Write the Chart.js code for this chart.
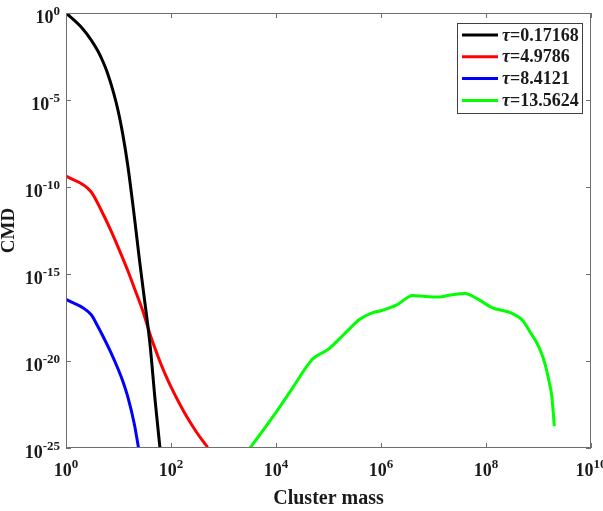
<!DOCTYPE html>
<html>
<head>
<meta charset="utf-8">
<script src="https://cdn.jsdelivr.net/npm/chart.js@4"></script>
<style>
  html, body { margin: 0; padding: 0; background: #fff; }
  #wrap { width: 603px; height: 511px; position: relative; }
</style>
</head>
<body>
<div id="wrap"><canvas id="cmd"></canvas></div>
<script>
// cluster mass distribution at four times
const massBlack = [1, 2, 3, 4, 5, 6, 8, 10, 12, 15, 20, 25, 30, 40, 50, 60, 70];
const cmdBlack = [1, 1.41e-1, 2.88e-2, 6.92e-3, 1.74e-3, 4.47e-4, 2.82e-5, 1.91e-6, 1.17e-7, 1.78e-9,
                  2.04e-12, 6.92e-15, 8.91e-17, 7.94e-20, 5.01e-23, 2.19e-25, 2.69e-27];

const massRed = [1, 3, 5, 7, 10, 15, 20, 30, 40, 60, 80, 100, 150, 200, 300, 400, 500];
const cmdRed = [4.27e-10, 5.37e-11, 3.09e-12, 3.63e-13, 3.09e-14, 1.58e-15, 1.58e-16, 5.62e-18,
                3.31e-19, 1.15e-20, 1.38e-21, 3.24e-22, 2.95e-23, 6.17e-24, 8.91e-25, 2.63e-25, 1.10e-25];

const massBlue = [1, 3, 4, 5, 7, 10, 12, 15, 20, 25];
const cmdBlue = [3.55e-17, 4.68e-18, 1.02e-18, 2.82e-19, 3.55e-20, 3.02e-21, 7.24e-22, 8.91e-23, 2.40e-24, 5.13e-26];

const massGreen = [3e3, 5e3, 1e4, 2e4, 5e4, 1e5, 2e5, 4e5, 7e5, 1e6, 2e6, 4e6, 7e6, 1.3e7, 2e7, 4e7,
                   7e7, 1.3e8, 3e8, 5e8, 7e8, 1e9, 1.3e9, 1.6e9, 1.8e9, 2e9];
const cmdGreen = [7.76e-26, 6.17e-25, 1.12e-23, 2.45e-22, 1.29e-20, 4.79e-20, 3.55e-19, 2.57e-18, 6.03e-18,
                  7.76e-18, 1.66e-17, 5.89e-17, 5.13e-17, 4.79e-17, 6.03e-17, 7.59e-17, 3.63e-17, 1.17e-17,
                  5.75e-18, 2.14e-18, 4.37e-19, 7.24e-20, 8.71e-21, 6.17e-22, 8.51e-23, 1.82e-24];

const tauValues = ['0.17168', '4.9786', '8.4121', '13.5624'];
const lineColors = ['#000000', '#ff0000', '#0000ff', '#00ff00'];

const xTicks = [1e0, 1e2, 1e4, 1e6, 1e8, 1e10];
const xTickExp = ['0', '2', '4', '6', '8', '10'];
const yTicks = [1e-25, 1e-20, 1e-15, 1e-10, 1e-5, 1e0];
const yTickExp = ['-25', '-20', '-15', '-10', '-5', '0'];

const FONT = '"Liberation Serif", "Times New Roman", serif';
const axisColor = '#6e6e6e';
const textColor = '#1a1a1a';

function pts(xs, ys) {
    return xs.map((m, i) => ({x: m, y: ys[i]}));
}

// "10" with a raised exponent
function drawPow(ctx, exp, left, baseY) {
    ctx.font = 'bold 18px ' + FONT;
    ctx.fillText('10', left, baseY);
    const wb = ctx.measureText('10').width;
    ctx.font = 'bold 13px ' + FONT;
    ctx.fillText(exp, left + wb, baseY - 8);
}
function powWidth(ctx, exp) {
    ctx.font = 'bold 18px ' + FONT;
    const wb = ctx.measureText('10').width;
    ctx.font = 'bold 13px ' + FONT;
    return wb + ctx.measureText(exp).width;
}

const matlabAxes = {
    id: 'matlabAxes',
    afterDatasetsDraw(chart) {
        const ctx = chart.ctx;
        const a = chart.chartArea;
        const xs = chart.scales.x, ys = chart.scales.y;
        ctx.save();

        // box + inward ticks on all four sides
        ctx.strokeStyle = axisColor;
        ctx.lineWidth = 1;
        ctx.strokeRect(a.left + 0.5, a.top + 0.5, a.right - a.left - 1, a.bottom - a.top - 1);
        ctx.beginPath();
        xTicks.forEach(v => {
            const px = Math.round(xs.getPixelForValue(v)) + 0.5;
            ctx.moveTo(px, a.bottom); ctx.lineTo(px, a.bottom - 5);
            ctx.moveTo(px, a.top); ctx.lineTo(px, a.top + 5);
        });
        yTicks.forEach(v => {
            const py = Math.round(ys.getPixelForValue(v)) + 0.5;
            ctx.moveTo(a.left, py); ctx.lineTo(a.left + 5, py);
            ctx.moveTo(a.right, py); ctx.lineTo(a.right - 5, py);
        });
        ctx.stroke();

        // tick labels
        ctx.fillStyle = textColor;
        ctx.textAlign = 'left';
        ctx.textBaseline = 'alphabetic';
        xTicks.forEach((v, i) => {
            const px = xs.getPixelForValue(v);
            const w = powWidth(ctx, xTickExp[i]);
            drawPow(ctx, xTickExp[i], px - w / 2, a.bottom + 28);
        });
        yTicks.forEach((v, i) => {
            const py = ys.getPixelForValue(v);
            const w = powWidth(ctx, yTickExp[i]);
            drawPow(ctx, yTickExp[i], a.left - 6 - w, py + 10);
        });

        // axis titles
        ctx.font = 'bold 20px ' + FONT;
        ctx.textAlign = 'center';
        ctx.fillText('Cluster mass', (a.left + a.right) / 2, 504);
        ctx.save();
        ctx.translate(14, (a.top + a.bottom) / 2);
        ctx.rotate(-Math.PI / 2);
        ctx.font = 'bold 19px ' + FONT;
        ctx.fillText('CMD', 0, 0);
        ctx.restore();

        // legend box in the upper right corner
        const bx = a.right - 134, by = a.top + 10, bw = 125, bh = 90;
        ctx.fillStyle = '#ffffff';
        ctx.fillRect(bx, by, bw, bh);
        ctx.strokeStyle = '#404040';
        ctx.strokeRect(bx + 0.5, by + 0.5, bw, bh);
        chart.data.datasets.forEach((ds, i) => {
            const ry = by + 12 + i * 21.8;
            ctx.strokeStyle = ds.borderColor;
            ctx.lineWidth = 3;
            ctx.beginPath();
            ctx.moveTo(bx + 5, ry); ctx.lineTo(bx + 41, ry);
            ctx.stroke();
            ctx.fillStyle = textColor;
            ctx.textAlign = 'left';
            ctx.textBaseline = 'middle';
            ctx.font = 'italic bold 18px ' + FONT;
            ctx.fillText('τ', bx + 45, ry + 1);
            const wt = ctx.measureText('τ').width;
            ctx.font = 'bold 18px ' + FONT;
            ctx.fillText(ds.label.slice(1), bx + 45 + wt, ry + 1);
        });
        ctx.restore();
    }
};

const series = [
    [massBlack, cmdBlack],
    [massRed, cmdRed],
    [massBlue, cmdBlue],
    [massGreen, cmdGreen]
];

new Chart(document.getElementById('cmd'), {
    type: 'line',
    data: {
        datasets: series.map((s, i) => ({
            label: 'τ=' + tauValues[i],
            data: pts(s[0], s[1]),
            borderColor: lineColors[i],
            backgroundColor: lineColors[i],
            borderWidth: 3,
            pointRadius: 0,
            cubicInterpolationMode: 'monotone',
            fill: false,
            clip: 0
        }))
    },
    options: {
        responsive: true,
        maintainAspectRatio: false,
        animation: false,
        layout: {padding: {left: 66, right: 12, top: 13, bottom: 63}},
        plugins: {legend: {display: false}, tooltip: {enabled: false}},
        scales: {
            x: {
                type: 'logarithmic',
                min: 1, max: 1e10,
                display: false,
                afterBuildTicks: s => { s.ticks = xTicks.map(v => ({value: v})); }
            },
            y: {
                type: 'logarithmic',
                min: 1e-25, max: 1,
                display: false,
                afterBuildTicks: s => { s.ticks = yTicks.map(v => ({value: v})); }
            }
        }
    },
    plugins: [matlabAxes]
});
</script>
</body>
</html>
